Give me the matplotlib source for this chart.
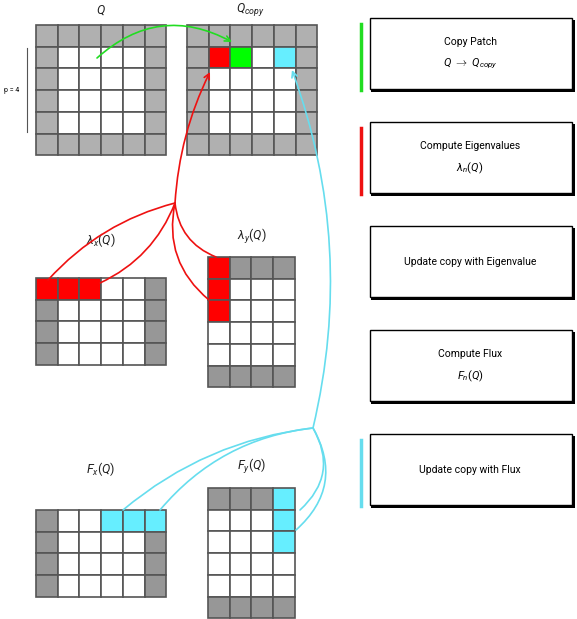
import matplotlib.pyplot as plt
from matplotlib.patches import Rectangle

plt.rcParams['font.family'] = ['Roboto', 'DejaVu Sans']
plt.rcParams['mathtext.fontset'] = 'custom'
plt.rcParams['mathtext.it'] = 'Roboto:italic'
plt.rcParams['mathtext.rm'] = 'Roboto'

# cell codes: g=gray, d=dark gray, w=white, r=red, G=green, c=cyan
grid_q = ["gggggg", "gwwwwg", "gwwwwg", "gwwwwg", "gwwwwg", "gggggg"]
grid_qcopy = ["gggggg", "grGwcg", "gwwwwg", "gwwwwg", "gwwwwg", "gggggg"]
grid_lx = ["rrrwwd", "dwwwwd", "dwwwwd", "dwwwwd"]
grid_ly = ["rddd", "rwww", "rwww", "wwww", "wwww", "dddd"]
grid_fx = ["dwwccc", "dwwwwd", "dwwwwd", "dwwwwd"]
grid_fy = ["dddc", "wwwc", "wwwc", "wwww", "wwww", "dddd"]
steps = ["Copy Patch", "Compute Eigenvalues", "Update copy with Eigenvalue",
         "Compute Flux", "Update copy with Flux"]
step_sub = [r"$Q\ \rightarrow\ Q_{copy}$", r"$\lambda_n(Q)$", "", r"$F_n(Q)$", ""]
step_bar = ["#22dd22", "#ee1111", "", "", "#66ddee"]

colors = {"g": "#b0b0b0", "d": "#979797", "w": "white", "r": "#ff0000",
          "G": "#00ff00", "c": "#66eeff"}

fig = plt.figure(figsize=(5.77, 6.19), dpi=100)
ax = fig.add_axes([0, 0, 1, 1])
ax.set_xlim(0, 577)
ax.set_ylim(619, 0)
ax.axis("off")

cs = 21.7

def draw_grid(g, x0, y0):
    for i, row in enumerate(g):
        for j, k in enumerate(row):
            ax.add_patch(Rectangle((x0 + j * cs, y0 + i * cs), cs, cs,
                                   facecolor=colors[k], edgecolor="#555555", lw=1.2))

draw_grid(grid_q, 36, 25)
draw_grid(grid_qcopy, 187, 25)
draw_grid(grid_lx, 36, 278)
draw_grid(grid_ly, 208, 257)
draw_grid(grid_fx, 36, 510)
draw_grid(grid_fy, 208, 488)

tk = dict(ha="center", va="center", fontsize=9, color="#222222")
ax.text(101, 10, r"$Q$", **tk)
ax.text(250, 10, r"$Q_{copy}$", **tk)
ax.text(101, 240, r"$\lambda_x(Q)$", **tk)
ax.text(252, 237, r"$\lambda_y(Q)$", **tk)
ax.text(101, 469, r"$F_x(Q)$", **tk)
ax.text(252, 467, r"$F_y(Q)$", **tk)
ax.plot([27, 27], [48, 132], color="#555555", lw=0.8)
ax.text(12, 90, "p = 4", fontsize=5, ha="center", va="center")

# arrows
def arc(p0, p1, col, rad, head=False):
    ax.annotate("", xy=p1, xytext=p0,
                arrowprops=dict(arrowstyle="->" if head else "-", color=col, lw=1.2,
                                connectionstyle="arc3,rad=%s" % rad, shrinkA=0, shrinkB=0))

arc((97, 58), (232, 42), "#22dd22", -0.35, True)
red = "#ee1111"
hub = (175, 203)
arc(hub, (210, 72), red, -0.1, True)
arc(hub, (48, 280), red, 0.15)
arc(hub, (100, 283), red, -0.2)
arc(hub, (216, 257), red, 0.3)
arc(hub, (209, 300), red, 0.3)
cyan = "#66ddee"
hub2 = (313, 428)
arc(hub2, (292, 70), cyan, 0.15, True)
arc(hub2, (123, 510), cyan, 0.15)
arc(hub2, (160, 510), cyan, 0.2)
arc(hub2, (296, 530), cyan, -0.4)
arc(hub2, (300, 510), cyan, -0.4)

# step boxes
for i, s in enumerate(steps):
    y0 = 18 + i * 104
    ax.add_patch(Rectangle((371, y0 + 1.5), 204, 72.5, facecolor="black", edgecolor="none"))
    ax.add_patch(Rectangle((370, y0), 202, 71, facecolor="white", edgecolor="black", lw=1))
    if step_sub[i]:
        ax.text(470, y0 + 38 - 14, s, ha="center", va="center", fontsize=7.5)
        ax.text(470, y0 + 38 + 8, step_sub[i], ha="center", va="center", fontsize=8)
    else:
        ax.text(470, y0 + 36, s, ha="center", va="center", fontsize=7.5)
    if step_bar[i]:
        ax.plot([361, 361], [y0 + 6, y0 + 72], color=step_bar[i], lw=2.5)

fig.savefig("out.png")
